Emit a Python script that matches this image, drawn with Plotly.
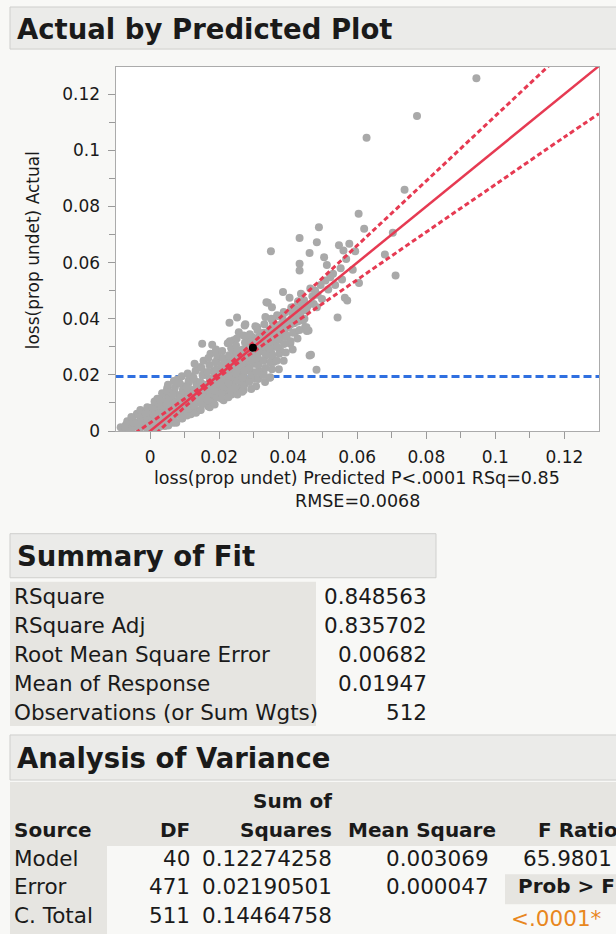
import plotly.graph_objects as go

W, H = 616, 934
K = 1.0 / 0.988   # vertical compensation observed in the rendered page
FONT = "DejaVu Sans, Verdana, sans-serif"

# ---------------- data ----------------
# (predicted, actual) pairs: scattered observations and outliers
obs_points = [
(-0.0085,0.0014),(-0.0078,0.0008),(-0.0070,0.0022),(-0.0062,0.0012),(-0.0056,0.0026),(-0.0050,0.0040),
(-0.0045,0.0016),(-0.0038,0.0062),(-0.0036,0.0030),(-0.0030,0.0008),(-0.0027,0.0044),(-0.0022,0.0022),
(-0.0017,0.0038),(-0.0012,0.0056),(-0.0010,0.0012),(-0.0006,0.0030),(0.0000,0.0048),(0.0003,0.0020),
(0.0006,0.0066),(0.0009,0.0036),(0.0012,0.0010),(0.0015,0.0054),(0.0018,0.0082),(0.0021,0.0115),
(0.0021,0.0026),(0.0024,0.0044),(0.0027,0.0070),(0.0030,0.0092),(0.0031,0.0074),(0.0034,0.0034),
(0.0037,0.0056),(0.0040,0.0104),(0.0043,0.0018),(0.0045,0.0080),(0.0048,0.0128),(0.0050,0.0154),
(0.0052,0.0046),(0.0055,0.0066),(0.0058,0.0094),(0.0060,0.0038),(0.0062,0.0116),(0.0065,0.0097),
(0.0068,0.0058),(0.0070,0.0140),(0.0073,0.0076),(0.0076,0.0030),(0.0079,0.0184),(0.0080,0.0108),
(0.0083,0.0064),(0.0086,0.0128),(0.0089,0.0121),(0.0090,0.0088),(0.0093,0.0046),(0.0096,0.0160),
(0.0098,0.0062),(0.0100,0.0104),(0.0103,0.0136),(0.0106,0.0078),(0.0108,0.0118),(0.0111,0.0170),
(0.0114,0.0092),(0.0117,0.0195),(0.0118,0.0060),(0.0120,0.0146),(0.0123,0.0110),(0.0126,0.0082),
(0.0127,0.0145),(0.0127,0.0097),(0.0130,0.0126),(0.0133,0.0176),(0.0136,0.0102),(0.0139,0.0154),
(0.0141,0.0074),(0.0144,0.0124),(0.0146,0.0228),(0.0148,0.0138),(0.0151,0.0311),(0.0152,0.0096),
(0.0155,0.0166),(0.0156,0.0109),(0.0158,0.0200),(0.0161,0.0130),(0.0164,0.0148),(0.0166,0.0163),
(0.0168,0.0088),(0.0170,0.0118),(0.0173,0.0186),(0.0175,0.0275),(0.0177,0.0140),(0.0180,0.0307),
(0.0181,0.0106),(0.0184,0.0214),(0.0186,0.0160),(0.0189,0.0128),(0.0191,0.0176),(0.0195,0.0258),
(0.0195,0.0133),(0.0198,0.0196),(0.0201,0.0148),(0.0204,0.0180),(0.0206,0.0116),(0.0209,0.0226),
(0.0212,0.0164),(0.0215,0.0204),(0.0218,0.0138),(0.0220,0.0244),(0.0222,0.0186),(0.0225,0.0313),
(0.0227,0.0156),(0.0230,0.0386),(0.0232,0.0214),(0.0233,0.0252),(0.0233,0.0163),(0.0236,0.0130),
(0.0238,0.0204),(0.0240,0.0232),(0.0242,0.0323),(0.0244,0.0178),(0.0246,0.0274),(0.0248,0.0196),
(0.0250,0.0148),(0.0252,0.0404),(0.0254,0.0222),(0.0257,0.0352),(0.0257,0.0256),(0.0259,0.0190),
(0.0262,0.0228),(0.0262,0.0287),(0.0262,0.0240),(0.0265,0.0166),(0.0268,0.0210),(0.0271,0.0145),
(0.0271,0.0198),(0.0274,0.0376),(0.0274,0.0264),(0.0276,0.0380),(0.0278,0.0236),(0.0281,0.0300),
(0.0283,0.0182),(0.0286,0.0325),(0.0288,0.0250),(0.0290,0.0214),(0.0293,0.0276),(0.0296,0.0335),
(0.0300,0.0186),(0.0302,0.0240),(0.0305,0.0373),(0.0307,0.0292),(0.0310,0.0370),(0.0310,0.0240),
(0.0312,0.0262),(0.0315,0.0318),(0.0317,0.0212),(0.0319,0.0305),(0.0322,0.0284),(0.0324,0.0202),
(0.0326,0.0348),(0.0329,0.0347),(0.0329,0.0252),(0.0329,0.0204),(0.0331,0.0310),(0.0334,0.0406),
(0.0336,0.0270),(0.0337,0.0459),(0.0339,0.0332),(0.0341,0.0457),(0.0343,0.0296),(0.0346,0.0362),
(0.0348,0.0325),(0.0348,0.0192),(0.0350,0.0640),(0.0351,0.0280),(0.0353,0.0441),(0.0353,0.0252),
(0.0355,0.0390),(0.0358,0.0370),(0.0358,0.0246),(0.0360,0.0316),(0.0363,0.0342),(0.0366,0.0300),
(0.0368,0.0412),(0.0371,0.0356),(0.0374,0.0330),(0.0377,0.0344),(0.0377,0.0287),(0.0380,0.0380),
(0.0383,0.0402),(0.0385,0.0495),(0.0387,0.0424),(0.0390,0.0360),(0.0393,0.0388),(0.0396,0.0340),
(0.0401,0.0370),(0.0404,0.0475),(0.0406,0.0311),(0.0408,0.0398),(0.0411,0.0420),(0.0414,0.0441),
(0.0417,0.0384),(0.0420,0.0352),(0.0423,0.0432),(0.0426,0.0408),(0.0429,0.0462),(0.0433,0.0596),
(0.0433,0.0572),(0.0433,0.0687),(0.0435,0.0412),(0.0437,0.0489),(0.0440,0.0440),(0.0443,0.0394),
(0.0446,0.0466),(0.0449,0.0370),(0.0452,0.0430),(0.0454,0.0356),(0.0457,0.0447),(0.0459,0.0358),
(0.0462,0.0634),(0.0462,0.0269),(0.0464,0.0508),(0.0466,0.0272),(0.0470,0.0480),(0.0474,0.0452),
(0.0478,0.0500),(0.0482,0.0218),(0.0483,0.0672),(0.0483,0.0441),(0.0485,0.0485),(0.0489,0.0726),
(0.0494,0.0520),(0.0498,0.0470),(0.0504,0.0619),(0.0508,0.0536),(0.0512,0.0591),(0.0516,0.0504),
(0.0522,0.0548),(0.0530,0.0560),(0.0536,0.0520),(0.0543,0.0404),(0.0547,0.0662),(0.0552,0.0580),
(0.0556,0.0540),(0.0560,0.0643),(0.0564,0.0475),(0.0568,0.0613),(0.0571,0.0465),(0.0577,0.0667),
(0.0587,0.0574),(0.0594,0.0640),(0.0604,0.0774),(0.0605,0.0527),(0.0620,0.0720),(0.0627,0.1044),
(0.0680,0.0629),(0.0703,0.0706),(0.0711,0.0554),(0.0737,0.0859),(0.0773,0.1122),(0.0945,0.1256),
]

# (predicted, actual) pairs: the dense core of the cloud
core_points = [
(-0.0072,0.0015),(-0.0066,0.0035),
(-0.0052,0.0010),(-0.0047,0.0030),(-0.0054,0.0050),
(-0.0031,0.0012),(-0.0026,0.0035),(-0.0033,0.0058),(-0.0028,0.0075),
(-0.0012,0.0015),(-0.0007,0.0040),(-0.0013,0.0065),(-0.0008,0.0085),
(0.0012,0.0012),(0.0007,0.0035),(0.0014,0.0060),(0.0008,0.0085),(0.0013,0.0105),
(0.0028,0.0015),(0.0034,0.0040),(0.0027,0.0065),(0.0033,0.0090),(0.0029,0.0115),(0.0035,0.0135),
(0.0053,0.0020),(0.0047,0.0045),(0.0054,0.0070),(0.0048,0.0095),(0.0055,0.0120),(0.0049,0.0145),(0.0052,0.0165),
(0.0067,0.0030),(0.0073,0.0055),(0.0068,0.0080),(0.0074,0.0105),(0.0066,0.0130),(0.0072,0.0155),(0.0069,0.0178),
(0.0093,0.0045),(0.0087,0.0070),(0.0094,0.0095),(0.0088,0.0120),(0.0095,0.0145),(0.0086,0.0170),(0.0092,0.0195),
(0.0107,0.0055),(0.0113,0.0080),(0.0108,0.0105),(0.0114,0.0130),(0.0106,0.0155),(0.0112,0.0180),(0.0109,0.0205),
(0.0133,0.0065),(0.0127,0.0090),(0.0134,0.0115),(0.0128,0.0140),(0.0135,0.0165),(0.0126,0.0190),(0.0132,0.0215),(0.0129,0.0240),
(0.0147,0.0075),(0.0153,0.0100),(0.0148,0.0125),(0.0154,0.0150),(0.0146,0.0175),(0.0152,0.0200),(0.0149,0.0225),(0.0155,0.0250),
(0.0173,0.0085),(0.0167,0.0110),(0.0174,0.0135),(0.0168,0.0160),(0.0175,0.0185),(0.0166,0.0210),(0.0172,0.0235),(0.0169,0.0260),
(0.0187,0.0095),(0.0193,0.0120),(0.0188,0.0145),(0.0194,0.0170),(0.0186,0.0195),(0.0192,0.0220),(0.0189,0.0245),(0.0195,0.0270),(0.0191,0.0290),
(0.0213,0.0110),(0.0207,0.0135),(0.0214,0.0160),(0.0208,0.0185),(0.0215,0.0210),(0.0206,0.0235),(0.0212,0.0260),(0.0209,0.0285),
(0.0227,0.0120),(0.0233,0.0145),(0.0228,0.0170),(0.0234,0.0195),(0.0226,0.0220),(0.0232,0.0245),(0.0229,0.0270),(0.0235,0.0295),(0.0231,0.0320),
(0.0253,0.0130),(0.0247,0.0155),(0.0254,0.0180),(0.0248,0.0205),(0.0255,0.0230),(0.0246,0.0255),(0.0252,0.0280),(0.0249,0.0305),(0.0251,0.0330),
(0.0267,0.0140),(0.0273,0.0165),(0.0268,0.0190),(0.0274,0.0215),(0.0266,0.0240),(0.0272,0.0265),(0.0269,0.0290),(0.0275,0.0315),(0.0271,0.0340),
(0.0293,0.0150),(0.0287,0.0175),(0.0294,0.0200),(0.0288,0.0225),(0.0295,0.0250),(0.0286,0.0275),(0.0292,0.0320),(0.0289,0.0345),
(0.0307,0.0160),(0.0313,0.0185),(0.0308,0.0210),(0.0314,0.0235),(0.0306,0.0260),(0.0312,0.0285),(0.0309,0.0310),(0.0315,0.0335),(0.0311,0.0360),
(0.0333,0.0175),(0.0327,0.0200),(0.0334,0.0225),(0.0328,0.0250),(0.0335,0.0275),(0.0326,0.0300),(0.0332,0.0325),(0.0329,0.0350),(0.0331,0.0380),
(0.0347,0.0190),(0.0353,0.0220),(0.0348,0.0245),(0.0354,0.0270),(0.0346,0.0295),(0.0352,0.0320),(0.0349,0.0345),(0.0355,0.0370),(0.0351,0.0400),
(0.0373,0.0220),(0.0367,0.0250),(0.0374,0.0275),(0.0368,0.0300),(0.0375,0.0325),(0.0366,0.0350),(0.0372,0.0375),(0.0369,0.0410),
(0.0387,0.0250),(0.0393,0.0280),(0.0388,0.0310),(0.0394,0.0335),(0.0386,0.0360),(0.0392,0.0390),(0.0389,0.0420),
(0.0413,0.0290),(0.0407,0.0320),(0.0414,0.0350),(0.0408,0.0380),(0.0415,0.0415),(0.0409,0.0440),
(0.0427,0.0330),(0.0433,0.0360),(0.0428,0.0390),(0.0434,0.0420),(0.0429,0.0460),
(0.0453,0.0370),(0.0447,0.0400),(0.0454,0.0440),
]

predicted = [p[0] for p in obs_points + core_points]
actual = [p[1] for p in obs_points + core_points]

highlight_x = [0.0298]
highlight_y = [0.0297]

mean_response = 0.01947

fit_x = [-0.0100, 0.1300]
fit_y = [-0.0100, 0.1300]

band_x     = [-0.0100, 0.0,     0.01,   0.0195, 0.03,   0.04,   0.06,   0.08,   0.10,   0.12,   0.1300]
band_upper = [-0.0055, 0.0029,  0.0115, 0.0203, 0.0317, 0.0431, 0.0661, 0.0891, 0.1122, 0.1353, 0.1468]
band_lower = [-0.0145, -0.0029, 0.0085, 0.0187, 0.0283, 0.0369, 0.0539, 0.0709, 0.0878, 0.1047, 0.1130]

x_tick_vals = [0, 0.02, 0.04, 0.06, 0.08, 0.10, 0.12]
x_tick_text = ["0", "0.02", "0.04", "0.06", "0.08", "0.1", "0.12"]
x_minor_vals = [0.01, 0.03, 0.05, 0.07, 0.09, 0.11]
y_tick_vals = [0, 0.02, 0.04, 0.06, 0.08, 0.10, 0.12]
y_tick_text = ["0", "0.02", "0.04", "0.06", "0.08", "0.1", "0.12"]
y_minor_vals = [0.01, 0.03, 0.05, 0.07, 0.09, 0.11]

summary_labels = ["RSquare", "RSquare Adj", "Root Mean Square Error",
                  "Mean of Response", "Observations (or Sum Wgts)"]
summary_values = ["0.848563", "0.835702", "0.00682", "0.01947", "512"]

anova_sources = ["Model", "Error", "C. Total"]
anova_df = ["40", "471", "511"]
anova_ss = ["0.12274258", "0.02190501", "0.14464758"]
anova_ms = ["0.003069", "0.000047", ""]
f_ratio = "65.9801"
prob_f = "<.0001*"

# ---------------- helpers ----------------
def PX(x):
    return x / W

def PY(y):
    return 1 - (y * K) / H

shapes = []
annotations = []

def rect(x0, y0, x1, y1, fill, line=None):
    shapes.append(dict(type="rect", xref="paper", yref="paper",
                       x0=PX(x0), x1=PX(x1), y0=PY(y1), y1=PY(y0),
                       fillcolor=fill, layer="below",
                       line=dict(color=line or fill, width=1 if line else 0)))

def text(x, y, s, size=21, anchor="left", color="#1a1a1a", bold=False, angle=0):
    annotations.append(dict(xref="paper", yref="paper", x=PX(x), y=PY(y),
                            text=f"<b>{s}</b>" if bold else s, showarrow=False,
                            xanchor=anchor, yanchor="middle", textangle=angle,
                            font=dict(family=FONT, size=size, color=color),
                            borderpad=0))

HEAD_BG = "#ebebe9"
HEAD_LINE = "#cfcfcd"
CELL_BG = "#e6e5e1"
TXT = 21.5
TXT_B = 20
HEAD = 27.5

# ---------------- figure ----------------
fig = go.Figure()

fig.add_trace(go.Scatter(x=[band_x[0], band_x[-1]], y=[mean_response, mean_response],
                         mode="lines", line=dict(color="#2f6fe0", width=3, dash="8px,4px"),
                         hoverinfo="skip"))
fig.add_trace(go.Scatter(x=predicted, y=actual, mode="markers",
                         marker=dict(size=8, color="#a9a9a9", line=dict(width=0))))
fig.add_trace(go.Scatter(x=band_x, y=band_upper, mode="lines", line_shape="spline",
                         line=dict(color="#e63a52", width=3, dash="5px,3px")))
fig.add_trace(go.Scatter(x=band_x, y=band_lower, mode="lines", line_shape="spline",
                         line=dict(color="#e63a52", width=3, dash="5px,3px")))
fig.add_trace(go.Scatter(x=fit_x, y=fit_y, mode="lines",
                         line=dict(color="#e63a52", width=2.5)))
fig.add_trace(go.Scatter(x=highlight_x, y=highlight_y, mode="markers",
                         marker=dict(size=8, color="#000000")))

# plot panel
plot_l, plot_r, plot_t, plot_b = 115.5, 599, 67, 430.5
axis_common = dict(showgrid=False, zeroline=False, showline=True, mirror=True,
                   linecolor="#ababab", linewidth=1, ticks="outside", ticklen=7,
                   tickwidth=1, tickcolor="#9a9a9a",
                   tickfont=dict(family=FONT, size=17, color="#1a1a1a"))
fig.update_layout(
    width=W, height=H, margin=dict(l=0, r=0, t=0, b=0),
    paper_bgcolor="#f8f8f6", plot_bgcolor="#ffffff", showlegend=False,
    xaxis=dict(domain=[PX(plot_l), PX(plot_r)], range=[-0.0100, 0.1300],
               tickmode="array", tickvals=x_tick_vals, ticktext=x_tick_text,
               minor=dict(tickmode="array", tickvals=x_minor_vals, ticks="outside",
                          ticklen=6, tickcolor="#9a9a9a"),
               ticklabelstandoff=4, **axis_common),
    yaxis=dict(domain=[PY(plot_b), PY(plot_t)], range=[0, 0.1296],
               tickmode="array", tickvals=y_tick_vals, ticktext=y_tick_text,
               minor=dict(tickmode="array", tickvals=y_minor_vals, ticks="outside",
                          ticklen=6, tickcolor="#9a9a9a"),
               ticklabelstandoff=4, **axis_common),
)

# Section 1 header
rect(10, 7, 640, 49, HEAD_BG, HEAD_LINE)
text(16, 29, "Actual by Predicted Plot", size=HEAD, bold=True)
text(33, 250, "loss(prop undet) Actual", size=17, anchor="center", angle=-90)
text(357, 477, "loss(prop undet) Predicted P&lt;.0001 RSq=0.85", size=17.5, anchor="center")
text(357, 500, "RMSE=0.0068", size=17.5, anchor="center")

# Summary of Fit
rect(10, 533, 436, 577, HEAD_BG, HEAD_LINE)
text(16, 555, "Summary of Fit", size=HEAD, bold=True)
rect(10, 581, 316, 725, CELL_BG)
row_y = [596, 625, 654, 683, 712]
for yy, lab, val in zip(row_y, summary_labels, summary_values):
    text(13, yy, lab, size=TXT)
    text(428, yy, val, size=TXT, anchor="right")

# Analysis of Variance
rect(10, 734, 640, 779, HEAD_BG, HEAD_LINE)
text(16, 757, "Analysis of Variance", size=HEAD, bold=True)
rect(10, 781, 640, 845, CELL_BG)
rect(10, 845, 107, 950, CELL_BG)
rect(505, 873, 640, 903, CELL_BG)

text(333, 800, "Sum of", size=TXT_B, anchor="right", bold=True)
text(13, 829, "Source", size=TXT_B, bold=True)
text(191, 829, "DF", size=TXT_B, anchor="right", bold=True)
text(333, 829, "Squares", size=TXT_B, anchor="right", bold=True)
text(497, 829, "Mean Square", size=TXT_B, anchor="right", bold=True)
text(619, 829, "F Ratio", size=TXT_B, anchor="right", bold=True)

anova_y = [857, 885, 914]
for yy, src, df, ss, ms in zip(anova_y, anova_sources, anova_df, anova_ss, anova_ms):
    text(13, yy, src, size=TXT)
    text(191, yy, df, size=TXT, anchor="right")
    text(333, yy, ss, size=TXT, anchor="right")
    if ms:
        text(490, yy, ms, size=TXT, anchor="right")
text(613, anova_y[0], f_ratio, size=TXT, anchor="right")
text(616, anova_y[1], "Prob &gt; F", size=TXT_B, anchor="right", bold=True)
text(603, anova_y[2] + 3, prob_f.replace("<", "&lt;"), size=TXT, anchor="right", color="#e8871e")

fig.update_layout(shapes=shapes, annotations=annotations)
fig.write_html("out.html")
